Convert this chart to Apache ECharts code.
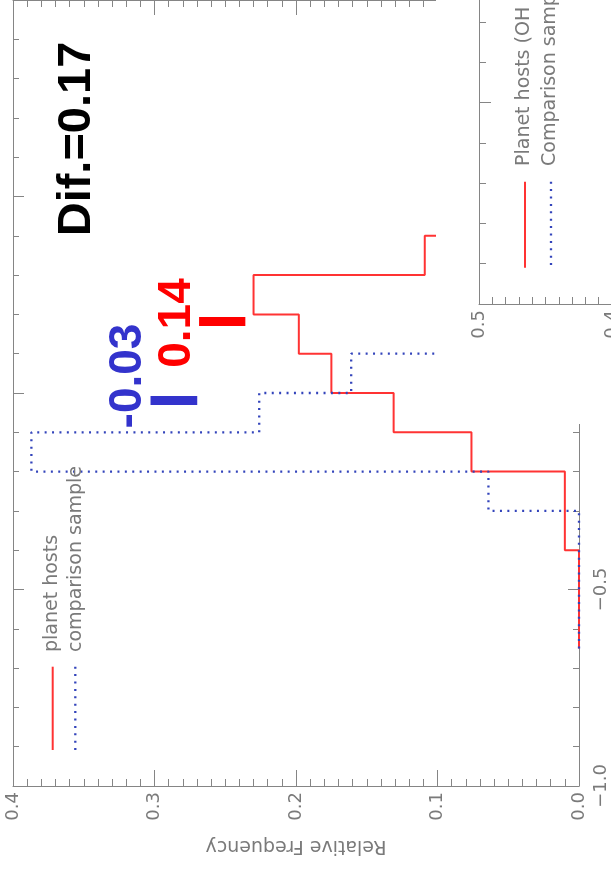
<!DOCTYPE html>
<html><head><meta charset="utf-8">
<script src="https://cdn.jsdelivr.net/npm/echarts@6/dist/echarts.min.js"></script>
<style>html,body{margin:0;padding:0;background:#fff}#c{width:611px;height:869px}</style>
</head><body><div id="c"></div>
<script>
// ---- data ----
const binEdgesPlanet = [-0.65, -0.4, -0.3, -0.2, -0.1, 0.0, 0.1, 0.2, 0.3, 0.4, 0.5];
const freqPlanet     = [0.000, 0.010, 0.010, 0.076, 0.131, 0.175, 0.198, 0.230, 0.109, 0.000];
const binEdgesComp   = [-0.65, -0.3, -0.2, -0.1, 0.0, 0.1, 0.2];
const freqComp       = [0.000, 0.064, 0.387, 0.226, 0.161, 0.000];
// mean markers as drawn: [Fe/H] position and frequency extent of the bar
const meanPlanetPos = 0.182, meanPlanetBar = [0.2685, 0.2358];
const meanCompPos = -0.019, meanCompBar = [0.3028, 0.2698];
const meanPlanetText = '0.14', meanCompText = '-0.03', difText = 'Dif.=0.17';
const legendPanel1 = ['planet hosts', 'comparison sample'];
const legendPanel2 = ['Planet hosts (OH', 'Comparison sample'];
const axisTitle = 'Relative Frequency';
const freqTicks = [0, 0.1, 0.2, 0.3, 0.4, 0.5];
const freqTickLabels = ['0.0', '0.1', '0.2', '0.3', '0.4', '0.5'];
const fehTicks = [-1, -0.5, 0, 0.5, 1];
const fehTickLabels = ['\u22121.0', '\u22120.5', '0.0', '0.5', '1.0'];

function lookup(ticks, labels) {
  return v => { const i = ticks.findIndex(t => Math.abs(t - v) < 1e-9); return i >= 0 ? labels[i] : ''; };
}
function stepPts(edges, freqs) {
  const pts = [];
  for (let i = 0; i < freqs.length; i++) { pts.push([freqs[i], edges[i]]); pts.push([freqs[i], edges[i + 1]]); }
  return pts;
}

const GRAY = '#858585', LABEL = '#7a7a7a';
const FONT = 'DejaVu Sans';
const RED = '#ff3333', BLUE = '#3344bb';

function freqAxis(grid, pos, max, showLabel, majorLen, z) {
  return {
    gridIndex: grid, type: 'value', min: 0, max: max, interval: 0.1, inverse: true, position: pos, z: z,
    axisLine: { show: true, onZero: false, lineStyle: { color: GRAY, width: 1 } },
    axisTick: { show: true, inside: true, length: majorLen, lineStyle: { color: GRAY } },
    minorTick: { show: true, splitNumber: 10, length: 7, lineStyle: { color: GRAY } },
    axisLabel: { show: showLabel, rotate: 90, margin: 6, fontFamily: FONT, fontSize: 18, color: LABEL,
                 formatter: lookup(freqTicks, freqTickLabels) },
    splitLine: { show: false }
  };
}
function fehAxis(grid, pos, min, max, showLabel, majorLen, minorLen, z) {
  return {
    gridIndex: grid, type: 'value', min: min, max: max, interval: 0.5, position: pos, z: z,
    axisLine: { show: true, onZero: false, lineStyle: { color: GRAY, width: 1 } },
    axisTick: { show: true, inside: true, length: majorLen, lineStyle: { color: GRAY } },
    minorTick: { show: true, splitNumber: 5, length: minorLen, lineStyle: { color: GRAY } },
    axisLabel: { show: showLabel, rotate: 90, margin: 13, fontFamily: FONT, fontSize: 18, color: LABEL,
                 formatter: lookup(fehTicks, fehTickLabels) },
    splitLine: { show: false }
  };
}

const xBottom = freqAxis(0, 'bottom', 0.4, true, 16, 0);
xBottom.name = axisTitle;
xBottom.nameLocation = 'middle';
xBottom.nameGap = 50;
xBottom.nameRotate = 180;
xBottom.nameTextStyle = { fontFamily: FONT, fontSize: 19, color: LABEL };

function rtext(x, y, text, size, color, weight, family, align, z) {
  return { type: 'text', x: x, y: y, rotation: Math.PI / 2, z: z,
    style: { text: text, fontSize: size, fontWeight: weight, fontFamily: family, fill: color,
             align: align, verticalAlign: 'middle' } };
}
function vline(x, y1, y2, color, dash, z) {
  const st = { stroke: color, lineWidth: dash ? 2.3 : 2 };
  if (dash) st.lineDash = [2, 5.4];
  return { type: 'line', z: z, shape: { x1: x, y1: y1, x2: x, y2: y2 }, style: st };
}

const option = {
  animation: false,
  backgroundColor: '#fff',
  grid: [
    { left: 13, top: 0, width: 566, height: 786, containLabel: false, outerBoundsMode: 'none' },
    { left: 479, top: -99, width: 665, height: 403, containLabel: false, outerBoundsMode: 'none' }
  ],
  xAxis: [
    xBottom,
    freqAxis(0, 'top', 0.4, false, 15, 0),
    freqAxis(1, 'bottom', 0.5, true, 16, 20)
  ],
  yAxis: [
    fehAxis(0, 'right', -1, 1, true, 11, 6, 0),
    fehAxis(0, 'left', -1, 1, false, 11, 6, 0),
    fehAxis(1, 'left', -1, 0, false, 12, 7, 20)
  ],
  series: [
    { type: 'line', name: legendPanel1[0], xAxisIndex: 0, yAxisIndex: 0, data: stepPts(binEdgesPlanet, freqPlanet),
      symbol: 'none', clip: false, z: 3, lineStyle: { color: RED, width: 2 } },
    { type: 'line', name: legendPanel1[1], xAxisIndex: 0, yAxisIndex: 0, data: stepPts(binEdgesComp, freqComp),
      symbol: 'none', clip: false, z: 4, lineStyle: { color: BLUE, width: 2.3, type: [2, 5.4] } },
    { type: 'line', name: 'planet mean', xAxisIndex: 0, yAxisIndex: 0,
      data: [[meanPlanetBar[0], meanPlanetPos], [meanPlanetBar[1], meanPlanetPos]],
      symbol: 'none', z: 5, lineStyle: { color: '#ff0000', width: 9, cap: 'butt' } },
    { type: 'line', name: 'comparison mean', xAxisIndex: 0, yAxisIndex: 0,
      data: [[meanCompBar[0], meanCompPos], [meanCompBar[1], meanCompPos]],
      symbol: 'none', z: 5, lineStyle: { color: '#3333cc', width: 9, cap: 'butt' } }
  ],
  graphic: [
    rtext(77, 139, difText, 47, '#000', 'bold', 'Liberation Sans', 'center', 6),
    rtext(128, 376, meanCompText, 46, '#3333cc', 'bold', 'Liberation Sans', 'center', 6),
    rtext(177, 323, meanPlanetText, 46, '#ff0000', 'bold', 'Liberation Sans', 'center', 6),
    vline(52.7, 666.7, 750, RED, false, 6),
    vline(75.3, 666.7, 750, BLUE, true, 6),
    rtext(52, 652, legendPanel1[0], 19, LABEL, 'normal', FONT, 'left', 6),
    rtext(76, 652, legendPanel1[1], 19, LABEL, 'normal', FONT, 'left', 6),
    { type: 'rect', z: 10, shape: { x: 436, y: 0, width: 175, height: 424 }, style: { fill: '#fff' } },
    vline(525, 181.7, 267.7, RED, false, 30),
    vline(551, 181.7, 267.7, BLUE, true, 30),
    rtext(524.5, 166, legendPanel2[0], 19, LABEL, 'normal', FONT, 'left', 30),
    rtext(550.5, 166, legendPanel2[1], 19, LABEL, 'normal', FONT, 'left', 30)
  ]
};
const chart = echarts.init(document.getElementById('c'), null, { renderer: 'canvas' });
chart.setOption(option);
</script>
</body></html>
